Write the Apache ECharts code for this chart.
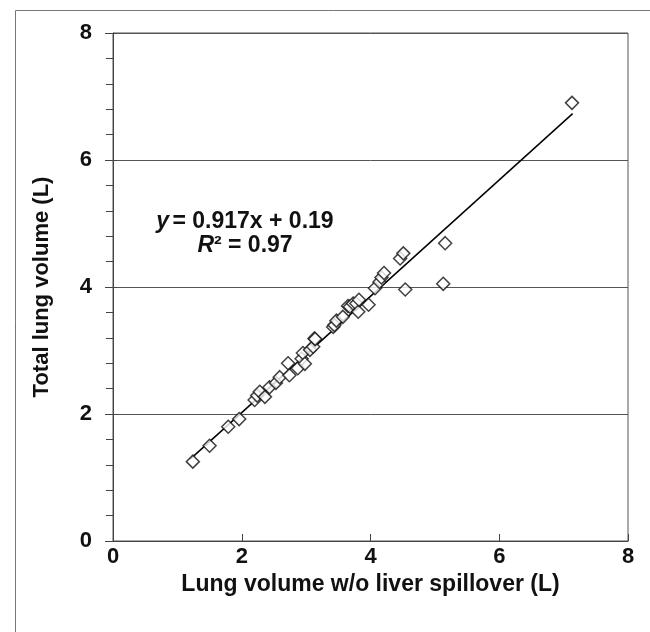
<!DOCTYPE html>
<html>
<head>
<meta charset="utf-8">
<script src="https://cdn.jsdelivr.net/npm/echarts@6/dist/echarts.min.js"></script>
<style>
  html, body { margin: 0; padding: 0; background: #fff; }
  #main { width: 650px; height: 632px; }
</style>
</head>
<body>
<div id="main"></div>
<script>
// lung volume without liver spillover (x) vs total lung volume (y), litres
var volNoSpill = [1.24, 1.50, 1.79, 1.96, 2.20, 2.24, 2.28, 2.36, 2.43, 2.53, 2.59, 2.72, 2.74, 2.87,
    2.93, 2.95, 2.98, 3.06, 3.11, 3.13, 3.14, 3.42, 3.44, 3.47, 3.57, 3.65, 3.68, 3.73, 3.78, 3.81,
    3.82, 3.97, 4.07, 4.14, 4.17, 4.21, 4.46, 4.51, 4.54, 5.13, 5.16, 7.13];
var volTotal = [1.25, 1.50, 1.80, 1.92, 2.22, 2.29, 2.35, 2.27, 2.42, 2.49, 2.58, 2.80, 2.61, 2.72,
    2.87, 2.96, 2.79, 3.01, 3.06, 3.19, 3.18, 3.37, 3.40, 3.47, 3.53, 3.70, 3.69, 3.74, 3.74, 3.61,
    3.80, 3.72, 3.98, 4.08, 4.15, 4.22, 4.45, 4.53, 3.96, 4.05, 4.69, 6.90];
// fitted line ends as drawn
var fitX = [1.20, 7.14];
var fitY = [1.29, 6.73];
var axisTicks = [0, 2, 4, 6, 8];
var eqText = '0.917x + 0.19';
var r2Text = '0.97';

var points = volNoSpill.map(function (x, i) { return [x, volTotal[i]]; });
var fitLine = fitX.map(function (x, i) { return [x, fitY[i]]; });

var font = 'Liberation Sans, Arial, sans-serif';
var axMin = axisTicks[0], axMax = axisTicks[axisTicks.length - 1];
var chart = echarts.init(document.getElementById('main'));

var eqRich = {
    i: { fontFamily: font, fontWeight: 'bold', fontStyle: 'italic', fontSize: 23, fill: '#111' },
    n: { fontFamily: font, fontWeight: 'bold', fontSize: 23, fill: '#111' }
};

chart.setOption({
    backgroundColor: '#fff',
    animation: false,
    grid: {
        left: 113, right: 22, top: 33, bottom: 91,
        show: true, borderColor: '#555', borderWidth: 1
    },
    xAxis: {
        type: 'value', min: axMin, max: axMax, interval: 2,
        name: 'Lung volume w/o liver spillover (L)',
        nameLocation: 'middle', nameGap: 27,
        nameTextStyle: { fontFamily: font, fontWeight: 'bold', fontSize: 23, color: '#111' },
        axisLine: { lineStyle: { color: '#444', width: 1 } },
        axisTick: { show: true, inside: true, length: 7, lineStyle: { color: '#444' } },
        axisLabel: { fontFamily: font, fontWeight: 'bold', fontSize: 22, color: '#111', margin: 5 },
        splitLine: { show: false }
    },
    yAxis: [
        {
            type: 'value', min: axMin, max: axMax, interval: 2,
            name: 'Total lung volume (L)',
            nameLocation: 'middle', nameGap: 60,
            nameTextStyle: { fontFamily: font, fontWeight: 'bold', fontSize: 22, color: '#111' },
            axisLine: { show: true, lineStyle: { color: '#444', width: 1 } },
            axisTick: { show: true, length: 8, lineStyle: { color: '#444' } },
            minorTick: { show: true, splitNumber: 5, length: 7, lineStyle: { color: '#444' } },
            axisLabel: { fontFamily: font, fontWeight: 'bold', fontSize: 22, color: '#111', margin: 21 },
            splitLine: { show: true, lineStyle: { color: '#555', width: 1 } }
        },
        {
            // inner half of the crossing major ticks
            type: 'value', min: axMin, max: axMax, interval: 2, position: 'left',
            axisLine: { show: false },
            axisTick: { show: true, inside: true, length: 4, lineStyle: { color: '#444' } },
            axisLabel: { show: false },
            splitLine: { show: false }
        }
    ],
    series: [
        {
            type: 'line',
            data: fitLine,
            symbol: 'none',
            lineStyle: { color: '#000', width: 1.5 },
            z: 2
        },
        {
            type: 'scatter',
            data: points,
            symbol: 'diamond',
            symbolSize: [13, 13],
            itemStyle: { color: '#fff', borderColor: '#111', borderWidth: 1.5 },
            z: 3
        }
    ],
    graphic: [
        {
            type: 'rect', left: 13, top: 8, z: 0,
            shape: { width: 660, height: 640 },
            style: { fill: 'none', stroke: '#777', lineWidth: 1 }
        },
        {
            type: 'text', z: 10,
            style: {
                x: 245, y: 222, align: 'center', verticalAlign: 'middle',
                text: '{i|y} {n|= ' + eqText + '}',
                rich: eqRich
            }
        },
        {
            type: 'text', z: 10,
            style: {
                x: 245, y: 246, align: 'center', verticalAlign: 'middle',
                text: '{i|R}{n|² = ' + r2Text + '}',
                rich: eqRich
            }
        }
    ]
});
</script>
</body>
</html>
